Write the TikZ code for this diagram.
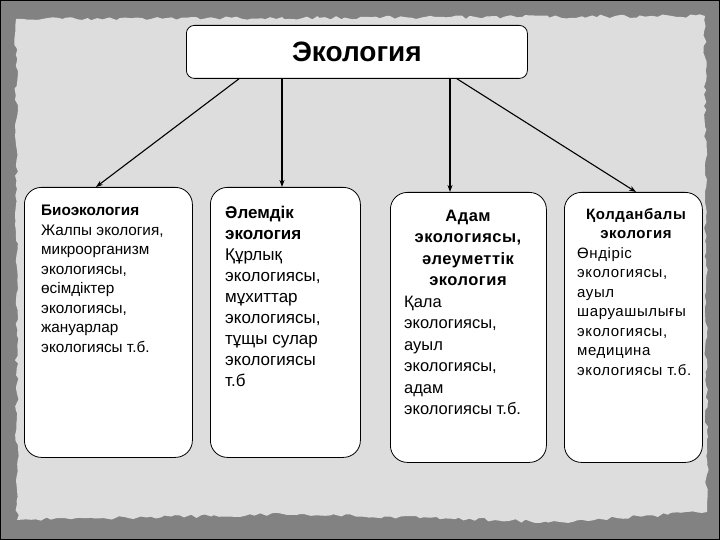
\documentclass[tikz,border=0pt]{standalone}
\usepackage{fontspec}
\setmainfont{Liberation Sans}
\usetikzlibrary{arrows.meta, positioning, decorations.pathmorphing}
\definecolor{frame}{RGB}{130,130,130}
\definecolor{paper}{RGB}{221,221,221}
\tikzset{
  box/.style={draw, fill=white, line width=0.8pt, rounded corners=17pt, inner sep=0pt, anchor=north west},
  txt/.style={inner sep=0pt, anchor=north west, align=left},
  head/.style={inner sep=0pt, anchor=north, align=center},
  arr/.style={-{Stealth[length=7pt,width=5pt]}, line width=1.1pt},
}

\begin{document}
\begin{tikzpicture}[x=1pt, y=-1pt]
	% Background: grey frame and torn paper
	\useasboundingbox (0,0) rectangle (720,540);
	\fill[frame] (0,0) rectangle (720,540);
	\pgfmathsetseed{11}
	\fill[paper, decorate, decoration={random steps, segment length=5pt, amplitude=1.8pt}]
		(16,19) -- (705,16) -- (707,512) -- (560,522) -- (300,514) -- (17,520) -- cycle;
	\draw[line width=1pt] (0.5,0.5) rectangle (719.5,539.5);
	
	% Root
	\node[box, rounded corners=8pt, minimum width=341pt, minimum height=53pt,
		font=\fontsize{28}{32}\selectfont\bfseries] (eco) at (186,25) {Экология};
	
	% Branch boxes
	\node[box, minimum width=168pt, minimum height=270pt] (bio) at (24,187) {};
	\node[box, minimum width=150pt, minimum height=270pt] (glob) at (210,187) {};
	\node[box, minimum width=156pt, minimum height=270pt] (soc) at (390,192) {};
	\node[box, minimum width=138pt, minimum height=270pt] (appl) at (564,192) {};
	
	% Texts
	\node[txt, font=\fontsize{15.3}{19.5}\selectfont] (biotxt) at (41,205)
		{\textbf{Биоэкология}\\Жалпы экология,\\микроорганизм\\экологиясы,\\өсімдіктер\\экологиясы,\\жануарлар\\экологиясы т.б.};
	\node[txt, font=\fontsize{17}{21}\selectfont] (globtxt) at (225,205.5)
		{\textbf{Әлемдік}\\\textbf{экология}\\Құрлық\\экологиясы,\\мұхиттар\\экологиясы,\\тұщы сулар\\экологиясы\\т.б};
	\node[head, font=\fontsize{16.5}{21.5}\selectfont\bfseries\addfontfeature{LetterSpace=3}] (sochead) at (468,209.5)
		{Адам\\экологиясы,\\әлеуметтік\\экология};
	\node[txt, font=\fontsize{16.5}{21.5}\selectfont] (soctxt) at (404,295.5)
		{Қала\\экологиясы,\\ауыл\\экологиясы,\\адам\\экологиясы т.б.};
	\node[head, font=\fontsize{15}{19.5}\selectfont\bfseries\addfontfeature{LetterSpace=4}] (applhead) at (636,208)
		{Қолданбалы\\экология};
	\node[txt, font=\fontsize{15}{19.5}\selectfont\addfontfeature{LetterSpace=4}] (appltxt) at (577,247)
		{Өндіріс\\экологиясы,\\ауыл\\шаруашылығы\\экологиясы,\\медицина\\экологиясы т.б.};
	
	% Arrows
	\draw[arr] ([xshift=53pt]eco.south west) -- ([xshift=72pt]bio.north west);
	\draw[arr] ([xshift=96pt]eco.south west) -- ([xshift=72pt]glob.north west);
	\draw[arr] ([xshift=264pt]eco.south west) -- ([xshift=60pt]soc.north west);
	\draw[arr] ([xshift=271pt]eco.south west) -- ([xshift=72pt]appl.north west);
\end{tikzpicture}
\end{document}
